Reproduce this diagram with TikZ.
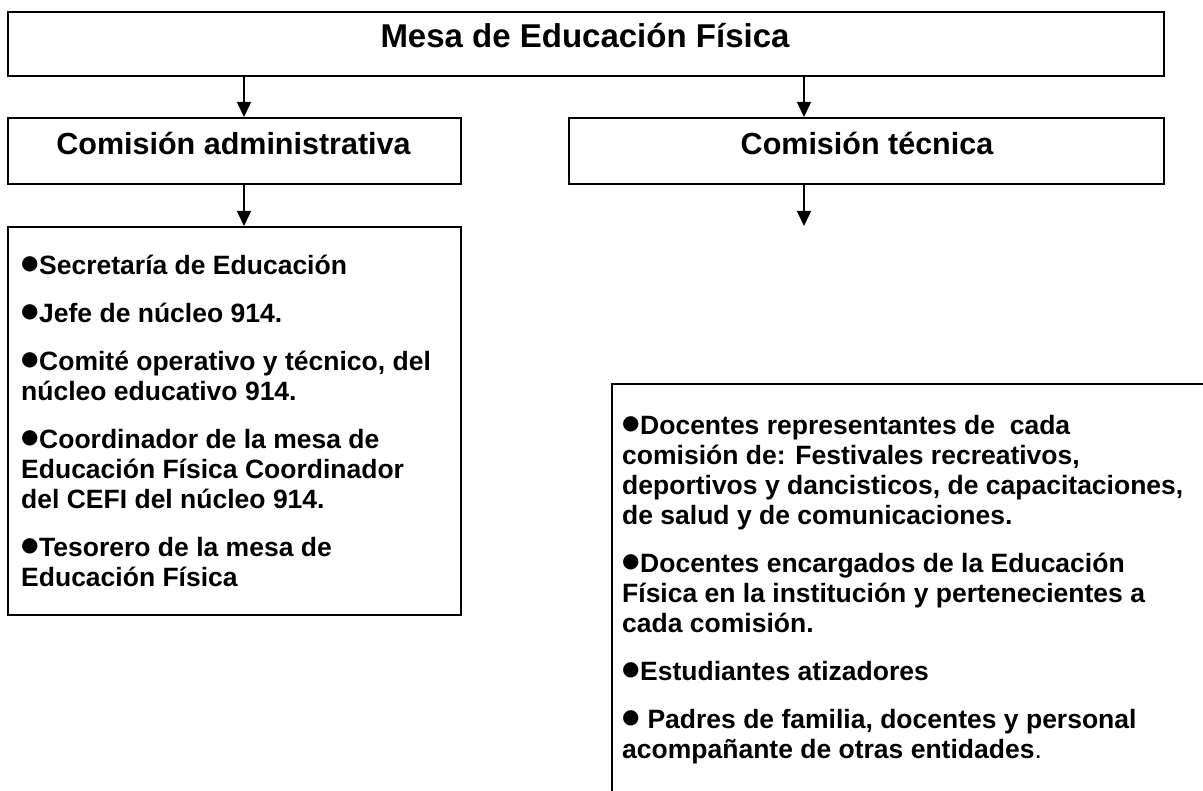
\documentclass[tikz,border=0pt]{standalone}
\usepackage{fontspec}
\setmainfont{Liberation Sans}
\newfontfamily\dejavu{DejaVu Sans}
\usetikzlibrary{arrows.meta}
\newcommand\bul{\makebox[18pt][l]{\raisebox{5pt}{\dejavu\fontsize{20}{20}\selectfont ●}}}
\begin{document}
\begin{tikzpicture}[x=1pt,y=-1pt,
 box/.style={draw=black, line width=1.6pt, rectangle, inner sep=0pt, anchor=north west},
 conn/.style={line width=1.5pt, -{Triangle[width=14pt,length=15pt]}},
 head/.style={font=\bfseries\fontsize{30.5}{36}\selectfont, inner sep=0pt, anchor=base},
 ttl/.style={font=\bfseries\fontsize{33}{38}\selectfont, inner sep=0pt, anchor=base},
 lst/.style={font=\bfseries\fontsize{26.5}{30}\selectfont, inner sep=0pt, anchor=base west, align=left}]
\useasboundingbox (0,0) rectangle (1203,791);
\clip (0,0) rectangle (1203,791);
\fill[white] (0,0) rectangle (1203,791);
\node[box, minimum width=1156pt, minimum height=64pt] (mesa) at (7,11) {};
\node[ttl] (mesat) at (585,48) {Mesa de Educación Física};
\node[box, minimum width=453pt, minimum height=66pt] (adm) at (7,117) {};
\node[head] (admt) at (233.5,155) {Comisión administrativa};
\node[box, minimum width=595pt, minimum height=66pt] (tec) at (568,117) {};
\node[head] (tect) at (867,155) {Comisión técnica};
\node[box, minimum width=453pt, minimum height=388pt] (admlist) at (7,226) {};
\node[lst] (admlistt) at (21,586) {\bul Secretaría de Educación\\[18pt]
\bul Jefe de núcleo 914.\\[18pt]
\bul Comité operativo y técnico, del\\
núcleo educativo 914.\\[18pt]
\bul Coordinador de la mesa de\\
Educación Física Coordinador\\
del CEFI del núcleo 914.\\[18pt]
\bul Tesorero de la mesa de\\
Educación Física};
\node[box, minimum width=700pt, minimum height=500pt] (teclist) at (611,383) {};
\node[lst] (teclistt) at (622,758) {\bul Docentes representantes de\ \ cada\\
comisión de: Festivales recreativos,\\
deportivos y dancisticos, de capacitaciones,\\
de salud y de comunicaciones.\\[18pt]
\bul Docentes encargados de la Educación\\
Física en la institución y pertenecientes a\\
cada comisión.\\[18pt]
\bul Estudiantes atizadores\\[18pt]
\bul\ Padres de familia, docentes y personal\\
acompañante de otras entidades{\mdseries .}};
\coordinate (xl) at (244,0);
\coordinate (xr) at (804,0);
\coordinate (tecend) at (804,226);
\draw[conn] (mesa.south -| xl) -- (adm.north -| xl);
\draw[conn] (mesa.south -| xr) -- (tec.north -| xr);
\draw[conn] (adm.south -| xl) -- (admlist.north -| xl);
\draw[conn] (tec.south -| xr) -- (tecend);
\end{tikzpicture}
\end{document}
